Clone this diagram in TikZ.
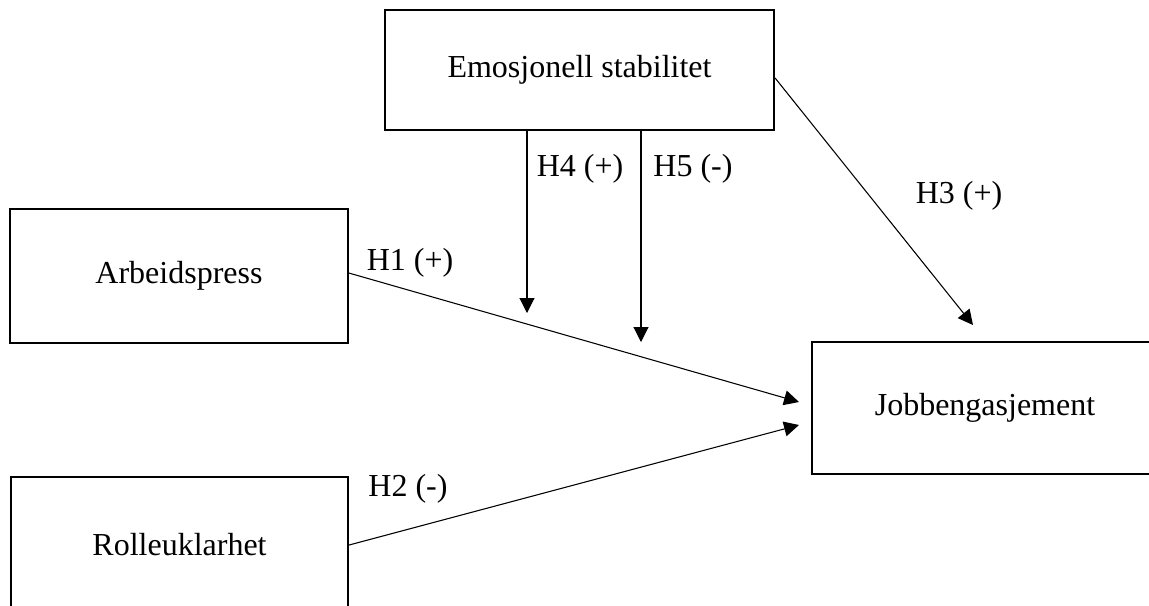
\documentclass[tikz,border=0pt]{standalone}
\usepackage{fontspec}
\setmainfont{Liberation Serif}
\usetikzlibrary{arrows.meta}

\begin{document}
\begin{tikzpicture}[x=0.375pt, y=-0.375pt,
  box/.style={draw, line width=0.8pt, inner sep=0pt, font=\fontsize{12}{14}\selectfont},
  link/.style={line width=0.4pt, -{Triangle[length=5.6pt,width=5.6pt]}},
  hyp/.style={inner sep=0pt, font=\fontsize{12}{14}\selectfont}]
\useasboundingbox (0,0) rectangle (1149,605);
%%%%% Boxes %%%%%
\node[box, minimum width=145.9pt, minimum height=45pt] (emo) at (579.5,70) {Emosjonell stabilitet};
\node[box, minimum width=126.75pt, minimum height=50.25pt] (arb) at (179,276) {Arbeidspress};
\node[box, minimum width=126.4pt, minimum height=51pt] (rol) at (179.5,545) {Rolleuklarhet};
\node[box, minimum width=129.75pt, minimum height=49.5pt] (jobb) at (985,408) {Jobbengasjement};
%%%%% Arrow ends %%%%%
\coordinate (h1end) at (799,402);
\coordinate (h2end) at (799,425);
\coordinate (h3end) at (973,325);
\coordinate (h4end) at (527,313);
\coordinate (h5end) at (641,342);
%%%%% Arrows %%%%%
\draw[link] ([yshift=1.1pt]arb.east) -- (h1end);
\draw[link] (rol.east) -- (h2end);
\draw[link] ([yshift=-3pt]emo.east) -- (h3end);
\draw[link] (emo.south -| h4end) -- (h4end);
\draw[link] (emo.south -| h5end) -- (h5end);
%%%%% Labels %%%%%
\node[hyp] (h1) at (410,263) {H1 (+)};
\node[hyp] (h2) at (408,489) {H2 (-)};
\node[hyp] (h3) at (959,196) {H3 (+)};
\node[hyp] (h4) at (580,169) {H4 (+)};
\node[hyp] (h5) at (693,169) {H5 (-)};
\end{tikzpicture}
\end{document}
